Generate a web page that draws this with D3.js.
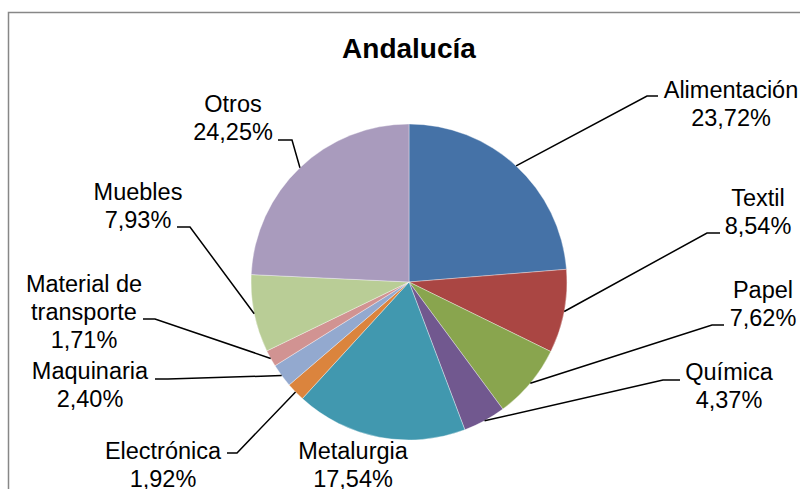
<!DOCTYPE html>
<html>
<head>
<meta charset="utf-8">
<script src="https://cdn.jsdelivr.net/npm/d3@7"></script>
<style>
  body { margin: 0; background: #fff; }
  text { font-family: "Liberation Sans", Arial, sans-serif; }
</style>
</head>
<body>
<svg id="pie" width="800" height="489"></svg>
<script>
const title = "Andalucía";
const categories = ["Alimentación", "Textil", "Papel", "Química", "Metalurgia",
  "Electrónica", "Maquinaria", "Material de transporte", "Muebles", "Otros"];
const values = [23.72, 8.54, 7.62, 4.37, 17.54, 1.92, 2.40, 1.71, 7.93, 24.25];
const colors = ["#4572A7", "#AA4643", "#89A54E", "#71588F", "#4198AF",
  "#DB843D", "#93A9CF", "#D19392", "#B9CD96", "#A99BBD"];

// posiciones de etiquetas (centro x, línea base) y codo de la línea guía
const labelLayout = [
  { x: 731, y: 98, elbow: [647, 96], end: 658 },
  { x: 758, y: 206, elbow: [707, 233], end: 720 },
  { x: 763, y: 298, elbow: [712, 325], end: 724 },
  { x: 729, y: 380, elbow: [663, 380], end: 680 },
  { x: 353, y: 459, elbow: null },
  { x: 163, y: 459, elbow: [237, 453], end: 227 },
  { x: 90, y: 379, elbow: [168, 379], end: 155 },
  { x: 84, y: 292, elbow: [155, 319], end: 143, lines: ["Material de", "transporte"] },
  { x: 138, y: 200, elbow: [190, 227], end: 177 },
  { x: 233, y: 112, elbow: [292, 140], end: 278 }
];

const svg = d3.select("#pie");
const cx = 409, cy = 282, radius = 158;
const lineH = 28;

const fmt = d3.formatLocale({ decimal: ",", thousands: ".", grouping: [3], currency: ["", "€"] }).format(".2f");

// marco
svg.append("rect")
  .attr("x", 8.5).attr("y", 12.5)
  .attr("width", 900).attr("height", 700)
  .attr("fill", "none")
  .attr("stroke", "#878787")
  .attr("stroke-width", 1.5);

svg.append("text")
  .attr("x", cx)
  .attr("y", 58)
  .attr("text-anchor", "middle")
  .attr("font-size", "28px")
  .attr("font-weight", "bold")
  .text(title);

const pie = d3.pie().sort(null).value(d => d);
const arcs = pie(values);
const arc = d3.arc().innerRadius(0).outerRadius(radius);
const edge = d3.arc().innerRadius(radius).outerRadius(radius);

const g = svg.append("g").attr("transform", `translate(${cx},${cy})`);

g.selectAll("path")
  .data(arcs)
  .join("path")
  .attr("d", arc)
  .attr("fill", (d, i) => colors[i])
  .attr("stroke", "#fff")
  .attr("stroke-width", 0.6)
  .attr("stroke-opacity", 0.6);

// líneas guía
svg.selectAll(".leader")
  .data(arcs.filter((d, i) => labelLayout[i].elbow))
  .join("polyline")
  .attr("class", "leader")
  .attr("fill", "none")
  .attr("stroke", "#000")
  .attr("stroke-width", 1.5)
  .attr("points", d => {
    const L = labelLayout[d.index];
    const p = edge.centroid(d);
    return [[p[0] + cx, p[1] + cy], L.elbow, [L.end, L.elbow[1]]].join(" ");
  });

// etiquetas
const labels = svg.selectAll(".label")
  .data(arcs)
  .join("text")
  .attr("class", "label")
  .attr("text-anchor", "middle")
  .attr("font-size", "23.5px")
  .attr("fill", "#000");

labels.each(function(d, i) {
  const L = labelLayout[i];
  const lines = (L.lines || [categories[i]]).concat(fmt(values[i]) + "%");
  d3.select(this).selectAll("tspan")
    .data(lines)
    .join("tspan")
    .attr("x", L.x)
    .attr("y", (t, k) => L.y + k * lineH)
    .text(t => t);
});
</script>
</body>
</html>
